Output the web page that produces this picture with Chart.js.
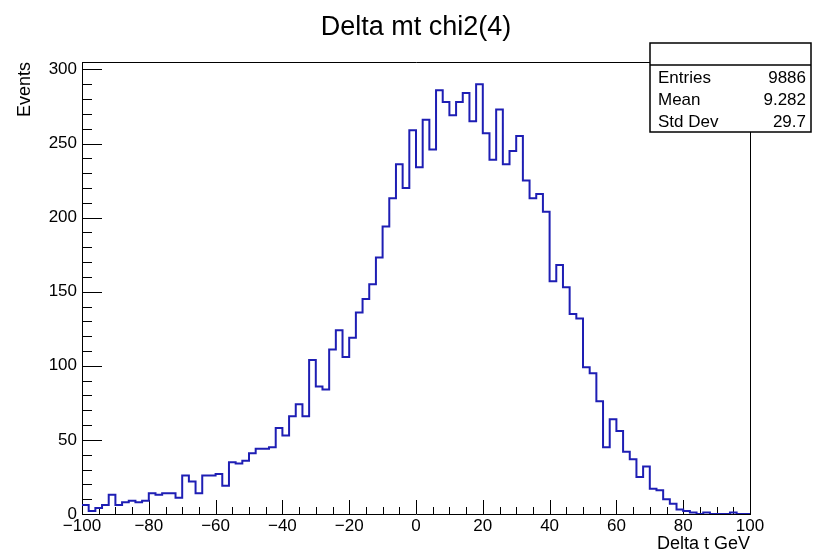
<!DOCTYPE html>
<html>
<head>
<meta charset="utf-8">
<title>Delta mt chi2(4)</title>
<script src="https://cdn.jsdelivr.net/npm/chart.js@4.4.1/dist/chart.umd.min.js"></script>
<style>
  html, body { margin: 0; padding: 0; background: #fff; }
  #wrap { width: 813px; height: 553px; }
</style>
</head>
<body>
<div id="wrap"><canvas id="hist" width="813" height="553"></canvas></div>
<script>
// ─── Histogram: 100 bins of 2 GeV from -100 to 100 ───
const xMin = -100;
const xMax = 100;
const binWidth = 2;
const yMax = 305;

const counts = [
    6, 2, 4, 6, 13, 6, 8, 9, 8, 9,
    14, 13, 14, 14, 11, 26, 22, 14, 26, 26,
    27, 19, 35, 34, 36, 41, 44, 44, 45, 58,
    53, 66, 74, 66, 104, 86, 84, 111, 124, 106,
    119, 136, 145, 155, 173, 194, 213, 236, 220, 259,
    234, 266, 246, 286, 278, 269, 278, 284, 265, 290,
    257, 239, 273, 236, 245, 255, 225, 213, 216, 204,
    157, 168, 153, 135, 132, 99, 95, 76, 45, 64,
    56, 42, 37, 25, 32, 17, 16, 10, 7, 3,
    2, 1, 0, 1, 0, 0, 0, 1, 0, 0
];

const xTicks = [-100, -80, -60, -40, -20, 0, 20, 40, 60, 80, 100];
const yTicks = [0, 50, 100, 150, 200, 250, 300];
const xMinorStep = 5;
const yMinorStep = 10;

const histTitle = 'Delta mt chi2(4)';
const statsLabels = ['Entries', 'Mean', 'Std Dev'];
const statsValues = ['9886', '9.282', '29.7'];

const FONT = '"Liberation Sans", Arial, Helvetica, sans-serif';

// step outline: one point per left bin edge, plus the closing right edge
const points = counts.map((c, i) => ({ x: xMin + i * binWidth, y: c }));
points.push({ x: xMax, y: counts[counts.length - 1] });

// ─── Title, inner ticks, frame and stats box ───
const rootFrame = {
    id: 'rootFrame',
    beforeDatasetsDraw(chart) {
        const { ctx, chartArea: a, scales: { x, y } } = chart;
        ctx.save();
        ctx.strokeStyle = '#000';
        ctx.lineWidth = 1;
        ctx.beginPath();
        for (let v = xMin; v <= xMax; v += xMinorStep) {
            const px = Math.round(x.getPixelForValue(v)) + 0.5;
            const len = xTicks.includes(v) ? 14 : 7;
            ctx.moveTo(px, a.bottom);
            ctx.lineTo(px, a.bottom - len);
        }
        for (let v = 0; v <= yMax; v += yMinorStep) {
            const py = Math.round(y.getPixelForValue(v)) + 0.5;
            const len = yTicks.includes(v) ? 20 : 10;
            ctx.moveTo(a.left, py);
            ctx.lineTo(a.left + len, py);
        }
        // top and right edges of the frame
        ctx.moveTo(a.left, Math.round(a.top) + 0.5);
        ctx.lineTo(a.right + 0.5, Math.round(a.top) + 0.5);
        ctx.lineTo(a.right + 0.5, a.bottom);
        ctx.stroke();

        // title centred over the frame
        ctx.fillStyle = '#000';
        ctx.font = '27px ' + FONT;
        ctx.textAlign = 'center';
        ctx.textBaseline = 'middle';
        ctx.fillText(histTitle, (a.left + a.right) / 2, 28);
        ctx.restore();
    },
    afterDraw(chart) {
        const { ctx } = chart;
        const box = { left: 650, top: 43, right: 811, bottom: 132, head: 65 };
        ctx.save();
        ctx.fillStyle = '#fff';
        ctx.fillRect(box.left, box.top, box.right - box.left, box.bottom - box.top);
        ctx.strokeStyle = '#000';
        ctx.lineWidth = 1.5;
        ctx.strokeRect(box.left, box.top, box.right - box.left, box.bottom - box.top);
        ctx.beginPath();
        ctx.moveTo(box.left, box.head);
        ctx.lineTo(box.right, box.head);
        ctx.stroke();

        ctx.fillStyle = '#000';
        ctx.font = '17px ' + FONT;
        ctx.textBaseline = 'middle';
        statsLabels.forEach((lbl, i) => {
            const rowY = 78 + i * 22;
            ctx.textAlign = 'left';
            ctx.fillText(lbl, box.left + 8, rowY);
            ctx.textAlign = 'right';
            ctx.fillText(statsValues[i], box.right - 5, rowY);
        });
        ctx.restore();
    }
};

new Chart(document.getElementById('hist'), {
    type: 'line',
    data: {
        datasets: [{
            data: points,
            stepped: 'before',
            borderColor: '#1e1eb4',
            borderWidth: 2,
            pointRadius: 0,
            fill: false,
            tension: 0
        }]
    },
    options: {
        responsive: false,
        animation: false,
        layout: { padding: { left: 0, right: 63, top: 62, bottom: 0 } },
        plugins: {
            legend: { display: false },
            tooltip: { enabled: false },
            title: { display: false }
        },
        scales: {
            x: {
                type: 'linear',
                min: xMin,
                max: xMax,
                afterBuildTicks: s => { s.ticks = xTicks.map(v => ({ value: v })); },
                afterFit: s => { s.height = 39; },
                grid: { display: false, drawTicks: false },
                border: { display: true, color: '#000', width: 1 },
                ticks: {
                    color: '#000',
                    font: { family: FONT, size: 17 },
                    padding: 2,
                    maxRotation: 0,
                    autoSkip: false,
                    callback: v => (v < 0 ? '\u2212' + Math.abs(v) : String(v))
                },
                title: {
                    display: true,
                    text: 'Delta t GeV',
                    align: 'end',
                    color: '#000',
                    font: { family: FONT, size: 18, lineHeight: 1 },
                    padding: { top: 0, bottom: 0 }
                }
            },
            y: {
                type: 'linear',
                min: 0,
                max: yMax,
                afterBuildTicks: s => { s.ticks = yTicks.map(v => ({ value: v })); },
                afterFit: s => { s.width = 82; },
                grid: { display: false, drawTicks: false },
                border: { display: true, color: '#000', width: 1 },
                ticks: {
                    color: '#000',
                    font: { family: FONT, size: 17 },
                    padding: 5,
                    autoSkip: false
                },
                title: {
                    display: true,
                    text: 'Events',
                    align: 'end',
                    color: '#000',
                    font: { family: FONT, size: 18 },
                    padding: { top: 14, bottom: 0 }
                }
            }
        }
    },
    plugins: [rootFrame]
});
</script>
</body>
</html>
